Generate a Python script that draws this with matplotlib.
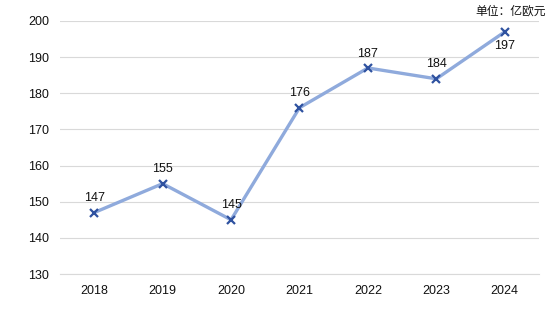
import matplotlib
matplotlib.use("Agg")
import matplotlib.pyplot as plt

years = ["2018", "2019", "2020", "2021", "2022", "2023", "2024"]
values = [147, 155, 145, 176, 187, 184, 197]
label_below = [False, False, False, False, False, False, True]
yticks = [130, 140, 150, 160, 170, 180, 190, 200]

plt.rcParams['font.family'] = ['Liberation Sans', 'Noto Sans CJK SC', 'DejaVu Sans']

fig = plt.figure(figsize=(5.52, 3.22), dpi=100)
ax = fig.add_axes([0.1087, 0.149, 0.8677, 0.7858])
x = list(range(len(years)))
ax.plot(x, values, color="#8faadc", lw=2.4, zorder=2)
ax.plot(x, values, ls="none", marker="x", ms=5.5, mew=1.6, color="#2f52a0", zorder=3)
for xi, v, below in zip(x, values, label_below):
    if below:
        ax.annotate(str(v), (xi, v), xytext=(0, -6), textcoords="offset points",
                    ha="center", va="top", fontsize=9, color="#111111")
    else:
        ax.annotate(str(v), (xi, v), xytext=(0, 6), textcoords="offset points",
                    ha="center", va="bottom", fontsize=9, color="#111111")

ax.set_xlim(-0.5, len(years) - 0.5)
ax.set_ylim(130, 200)
ax.set_yticks(yticks)
ax.set_xticks(x)
ax.set_xticklabels(years)
ax.grid(axis="y", color="#d9d9d9", lw=0.8)
ax.set_axisbelow(True)
for s in ["top", "right", "left"]:
    ax.spines[s].set_visible(False)
ax.spines["bottom"].set_color("#d9d9d9")
ax.spines["bottom"].set_linewidth(0.8)
ax.tick_params(length=0, labelsize=9, colors="#111111")
ax.tick_params(axis="y", pad=8)
ax.tick_params(axis="x", pad=8)

fig.text(0.988, 0.985, "单位：亿欧元", ha="right", va="top", fontsize=8.5,
         color="#111111", family=['Noto Sans CJK SC', 'DejaVu Sans'])

fig.savefig("out.png", dpi=100)
